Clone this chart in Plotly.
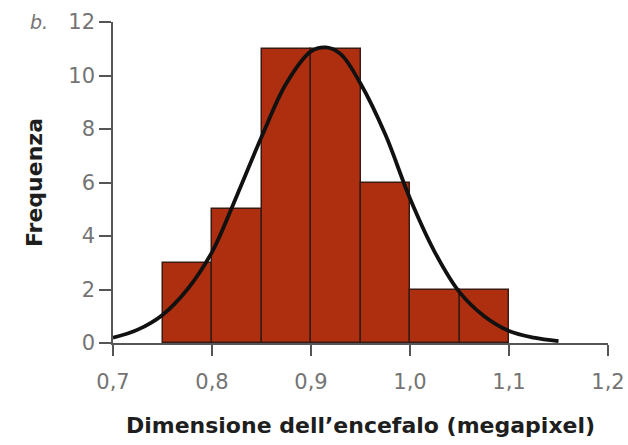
import plotly.graph_objects as go

# Histogram: left edges of the bins and counts
bin_left = [0.75, 0.80, 0.85, 0.90, 0.95, 1.00, 1.05]
bin_width = 0.05
counts = [3, 5, 11, 11, 6, 2, 2]

# Fitted normal curve
curve_x = [0.70, 0.725, 0.75, 0.775, 0.80, 0.825, 0.85, 0.875, 0.90, 0.915,
           0.93, 0.95, 0.975, 1.00, 1.025, 1.05, 1.075, 1.10, 1.125, 1.15]
curve_y = [0.2, 0.5, 1.05, 2.0, 3.4, 5.5, 7.7, 9.7, 10.9, 11.05,
           10.8, 9.7, 7.8, 5.4, 3.4, 1.9, 1.0, 0.45, 0.2, 0.07]

x_ticks = [0.7, 0.8, 0.9, 1.0, 1.1, 1.2]
x_ticklabels = ["0,7", "0,8", "0,9", "1,0", "1,1", "1,2"]
y_ticks = [0, 2, 4, 6, 8, 10, 12]

fig = go.Figure()

fig.add_bar(
    x=bin_left,
    y=counts,
    width=bin_width,
    offset=0,
    marker=dict(color="#AE2F10", line=dict(color="#3A1A12", width=1.5)),
    hoverinfo="x+y",
)

fig.add_scatter(
    x=curve_x,
    y=curve_y,
    mode="lines",
    line=dict(color="#111111", width=3.8, shape="spline", smoothing=1.0),
)

axis_font = dict(family="DejaVu Sans, sans-serif", size=21, color="#747474")
title_font = dict(family="DejaVu Sans, sans-serif", size=22, color="#1E1E1E")

fig.update_layout(
    width=628,
    height=445,
    margin=dict(l=113, r=20, t=22, b=102),
    paper_bgcolor="white",
    plot_bgcolor="white",
    showlegend=False,
    bargap=0,
    xaxis=dict(
        range=[0.7, 1.2],
        tickvals=x_ticks,
        ticktext=x_ticklabels,
        ticks="outside",
        ticklen=11,
        tickwidth=1.5,
        tickcolor="#555555",
        ticklabelstandoff=8,
        showline=True,
        linecolor="#555555",
        linewidth=1.5,
        showgrid=False,
        zeroline=False,
        automargin=False,
        tickfont=axis_font,
        title=dict(text="<b>Dimensione dell’encefalo (megapixel)</b>",
                   font=title_font, standoff=25),
    ),
    yaxis=dict(
        range=[0, 12],
        tickvals=y_ticks,
        ticks="outside",
        ticklen=12,
        tickwidth=1.5,
        tickcolor="#555555",
        showline=True,
        linecolor="#555555",
        linewidth=1.5,
        showgrid=False,
        zeroline=False,
        automargin=False,
        tickfont=axis_font,
        title=dict(text="<b>Frequenza</b>", font=title_font, standoff=20),
    ),
    annotations=[
        dict(text="<i>b.</i>", x=-0.15, y=1.0, xref="paper", yref="paper",
             xanchor="center", yanchor="middle", showarrow=False,
             font=dict(family="DejaVu Sans, sans-serif", size=19,
                       color="#747474")),
    ],
)

# drop the default 8px body margin so the figure fills the window exactly
fig.write_html("out.html", config={"displayModeBar": False},
               post_script="document.body.style.margin='0';")
